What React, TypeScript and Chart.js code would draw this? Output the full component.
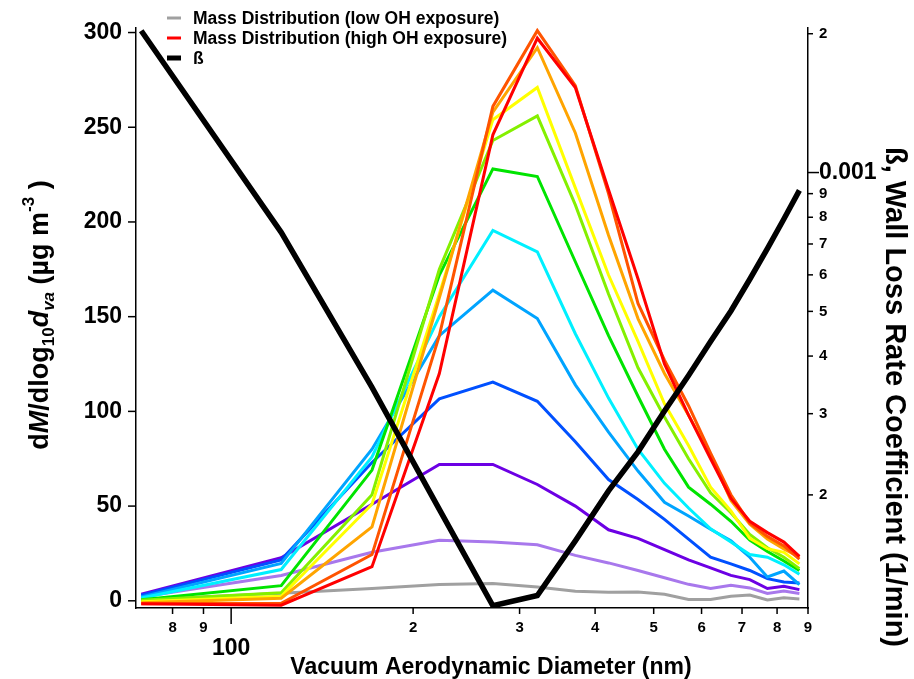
import React, { useEffect, useRef } from 'react';
import { Chart, registerables } from 'chart.js';
Chart.register(...registerables);

// Vacuum aerodynamic diameter (nm)
const diameters = [71, 121, 171, 221, 271, 321, 371, 421, 471, 521, 571, 621, 671, 721, 771, 821, 871];

// Mass distributions, from low OH exposure (gray) to high OH exposure (red)
const massLowOH = [0.5, 4, 6.5, 8.6, 9.1, 7.3, 5.1, 4.5, 4.7, 3.5, 0.7, 0.7, 2.4, 3, 0.4, 1.6, 1];
const mass02 = [2, 13.4, 25.6, 32, 31, 29.6, 24, 20, 16, 12.2, 8.7, 6.5, 8.2, 6.8, 3.9, 5.2, 3.9];
const mass03 = [3.5, 22.7, 51, 72, 72, 61.4, 50, 37.5, 33, 27, 21.6, 17.4, 13.4, 11.2, 6.5, 7.7, 5.9];
const mass04 = [3, 21.6, 73, 106.6, 115.5, 105.3, 84, 64, 53.5, 43, 32.6, 23, 19.5, 16, 11.7, 9.9, 9.4];
const mass05 = [2, 19.7, 80, 140, 164, 149, 114, 89, 68.5, 52, 44.8, 37.8, 31.7, 23, 12.6, 15.7, 8.5];
const mass06 = [1.5, 16.5, 76, 150, 195.5, 184.2, 141, 107, 80, 62, 49, 38, 31, 24.4, 23, 19, 14];
const mass07 = [0.5, 8, 69, 172, 228, 224, 179, 140, 108, 80, 60, 51, 42, 32, 26, 21, 16];
const mass08 = [0.3, 4.2, 56, 175, 243, 256, 209, 162, 123, 97, 75, 57, 46.5, 35, 28, 23, 17];
const mass09 = [-0.5, 2.4, 51, 162, 254, 271, 218, 172, 137, 104, 82, 60, 47.4, 33, 27.5, 25.6, 19.5];
const mass10 = [-1, 1.4, 39, 160, 258, 292, 247, 193, 149, 120, 98, 77, 53, 40.4, 32.6, 27.4, 23];
const mass11 = [-1.5, -1.3, 24.4, 140, 261, 301, 272, 215, 157, 127, 103, 78, 56, 41, 34, 29, 22];
const massHighOH = [-1.5, -2.3, 18, 120, 246, 297, 271, 217, 170, 125, 98, 75, 54, 42, 36, 31, 23.5];

// Wall loss rate coefficient beta (1/min)
const beta = [0.00203, 0.000742, 0.000342, 0.000186, 0.000115, 0.000121, 0.000159, 0.000204, 0.000248,
  0.000304, 0.000363, 0.00043, 0.000501, 0.000587, 0.000684, 0.000793, 0.000915];

const massSeries = [massLowOH, mass02, mass03, mass04, mass05, mass06, mass07, mass08, mass09, mass10, mass11, massHighOH];
const massColors = ['#a0a0a0', '#a878ec', '#6c00e4', '#0050ff', '#00a4ff', '#00f0ff', '#00e400', '#84f000', '#ffff00', '#ffa400', '#ff5400', '#ff0000'];

// Tick values
const xTicks = [80, 90, 100, 200, 300, 400, 500, 600, 700, 800, 900];
const leftTicks = [0, 50, 100, 150, 200, 250, 300];
const rightTicks = [0.0002, 0.0003, 0.0004, 0.0005, 0.0006, 0.0007, 0.0008, 0.0009, 0.001, 0.002];

const FAM = "'Liberation Sans', Arial, Helvetica, sans-serif";

type Seg = { t: string; size: number; italic?: boolean; dy?: number };

function drawRich(ctx: CanvasRenderingContext2D, segs: Seg[], cx: number, cy: number, rot: number) {
  ctx.save();
  ctx.translate(cx, cy);
  ctx.rotate(rot);
  ctx.fillStyle = '#000';
  ctx.textBaseline = 'alphabetic';
  ctx.textAlign = 'left';
  const fonts = segs.map(s => `${s.italic ? 'italic ' : ''}bold ${s.size}px ${FAM}`);
  const widths = segs.map((s, i) => { ctx.font = fonts[i]; return ctx.measureText(s.t).width; });
  const total = widths.reduce((a, b) => a + b, 0);
  let x = -total / 2;
  segs.forEach((s, i) => {
    ctx.font = fonts[i];
    ctx.fillText(s.t, x, s.dy || 0);
    x += widths[i];
  });
  ctx.restore();
}

const decorPlugin = {
  id: 'decor',
  afterDraw(chart: any) {
    const ctx: CanvasRenderingContext2D = chart.ctx;
    const { x, y, y1 } = chart.scales;
    const a = chart.chartArea;
    ctx.save();
    ctx.strokeStyle = '#000';
    ctx.lineWidth = 1.5;
    const seg = (x0: number, y0: number, x1: number, y1p: number) => {
      ctx.beginPath(); ctx.moveTo(x0, y0); ctx.lineTo(x1, y1p); ctx.stroke();
    };
    leftTicks.forEach(v => { const p = y.getPixelForValue(v); seg(a.left - 8, p, a.left, p); });
    rightTicks.forEach(v => { const p = y1.getPixelForValue(v); seg(a.right, p, a.right + (v === 0.001 ? 11 : 5), p); });
    xTicks.forEach(v => { const p = x.getPixelForValue(v); seg(p, a.bottom, p, a.bottom + (v === 100 ? 16 : 6)); });

    // axis titles
    drawRich(ctx, [{ t: 'Vacuum Aerodynamic Diameter (nm)', size: 23 }], (a.left + a.right) / 2 + 19, 674, 0);
    drawRich(ctx, [
      { t: 'd', size: 27 }, { t: 'M', size: 27, italic: true }, { t: '/dlog', size: 27 },
      { t: '10', size: 17, dy: 6 }, { t: 'd', size: 27, italic: true }, { t: 'va', size: 17, italic: true, dy: 6 },
      { t: ' (µg m', size: 27 }, { t: '-3', size: 17, dy: -14 }, { t: ' )', size: 27 },
    ], 48, 315, -Math.PI / 2);
    drawRich(ctx, [{ t: 'ß, Wall Loss Rate Coefficient (1/min)', size: 29 }], 886, 397, Math.PI / 2);

    // legend
    const items = [
      { label: 'Mass Distribution (low OH exposure)', color: massColors[0], w: 3 },
      { label: 'Mass Distribution (high OH exposure)', color: massColors[11], w: 3 },
      { label: 'ß', color: '#000', w: 5 },
    ];
    items.forEach((it, i) => {
      const cy = 18 + i * 20;
      ctx.strokeStyle = it.color;
      ctx.lineWidth = it.w;
      seg(167, cy, 181, cy);
      ctx.fillStyle = '#000';
      ctx.font = `bold 17.5px ${FAM}`;
      ctx.textBaseline = 'middle';
      ctx.textAlign = 'left';
      ctx.fillText(it.label, 193, cy + 1);
    });
    ctx.restore();
  },
};

export default function App() {
  const ref = useRef<HTMLCanvasElement | null>(null);
  useEffect(() => {
    if (!ref.current) return;
    const datasets: any[] = [];
    datasets.push({
      label: 'ß',
      data: diameters.map((d, i) => ({ x: d, y: beta[i] })),
      yAxisID: 'y1',
      borderColor: '#000',
      borderWidth: 5.5,
      order: 0,
    });
    massSeries.forEach((s, k) => {
      datasets.push({
        label: k === 0 ? 'Mass Distribution (low OH exposure)' : k === 11 ? 'Mass Distribution (high OH exposure)' : `Mass Distribution ${k + 1}`,
        data: diameters.map((d, i) => ({ x: d, y: s[i] })),
        yAxisID: 'y',
        borderColor: massColors[k],
        borderWidth: 3,
        order: 12 - k,
      });
    });
    const border = { display: true, color: '#000', width: 1.5 };
    const chart = new Chart(ref.current, {
      type: 'line',
      data: { datasets },
      plugins: [decorPlugin as any],
      options: {
        animation: false,
        responsive: false,
        devicePixelRatio: 1,
        layout: { padding: { top: 22, left: 0, right: 0, bottom: 0 } },
        elements: { point: { radius: 0 }, line: { tension: 0, borderJoinStyle: 'miter' as any } },
        plugins: { legend: { display: false }, tooltip: { enabled: false } },
        scales: {
          x: {
            type: 'logarithmic', position: 'bottom', min: 69.6, max: 900,
            grid: { display: false, drawTicks: false },
            border,
            afterBuildTicks: (s: any) => { s.ticks = xTicks.map(v => ({ value: v })); },
            afterFit: (s: any) => { s.height = 71; },
            ticks: {
              autoSkip: false, maxRotation: 0, minRotation: 0, padding: 11, color: '#000',
              font: (c: any) => (c.tick && c.tick.value === 100
                ? { family: FAM, size: 23, weight: 'bold', lineHeight: 0.85 }
                : { family: FAM, size: 15, weight: 'bold', lineHeight: 1.2 }),
              callback: (v: any) => {
                const n = Number(v);
                if (n === 100) return ['', '100'];
                return n < 100 ? String(Math.round(n / 10)) : String(Math.round(n / 100));
              },
            },
          },
          y: {
            type: 'linear', position: 'left', min: -3.8, max: 302.5,
            grid: { display: false, drawTicks: false },
            border,
            afterBuildTicks: (s: any) => { s.ticks = leftTicks.map(v => ({ value: v })); },
            afterFit: (s: any) => { s.width = 136; },
            ticks: { padding: 14, color: '#000', font: { family: FAM, size: 23, weight: 'bold' }, callback: (v: any) => String(v) },
          },
          y1: {
            type: 'logarithmic', position: 'right', min: 0.0001137, max: 0.00206,
            grid: { display: false, drawTicks: false },
            border,
            afterBuildTicks: (s: any) => { s.ticks = rightTicks.map(v => ({ value: v })); },
            afterFit: (s: any) => { s.width = 106; },
            ticks: {
              autoSkip: false, padding: 11, color: '#000',
              font: (c: any) => (c.tick && c.tick.value === 0.001
                ? { family: FAM, size: 23, weight: 'bold' }
                : { family: FAM, size: 15, weight: 'bold' }),
              callback: (v: any) => {
                const n = Number(v);
                if (n === 0.001) return '0.001';
                if (n === 0.002) return '2';
                return String(Math.round(n * 10000));
              },
            },
          },
        },
      } as any,
    });
    return () => chart.destroy();
  }, []);
  return (
    <div style={{ position: 'fixed', left: 0, top: 0, width: 914, height: 679, background: '#fff' }}>
      <canvas ref={ref} width={914} height={679} style={{ display: 'block' }} />
    </div>
  );
}
